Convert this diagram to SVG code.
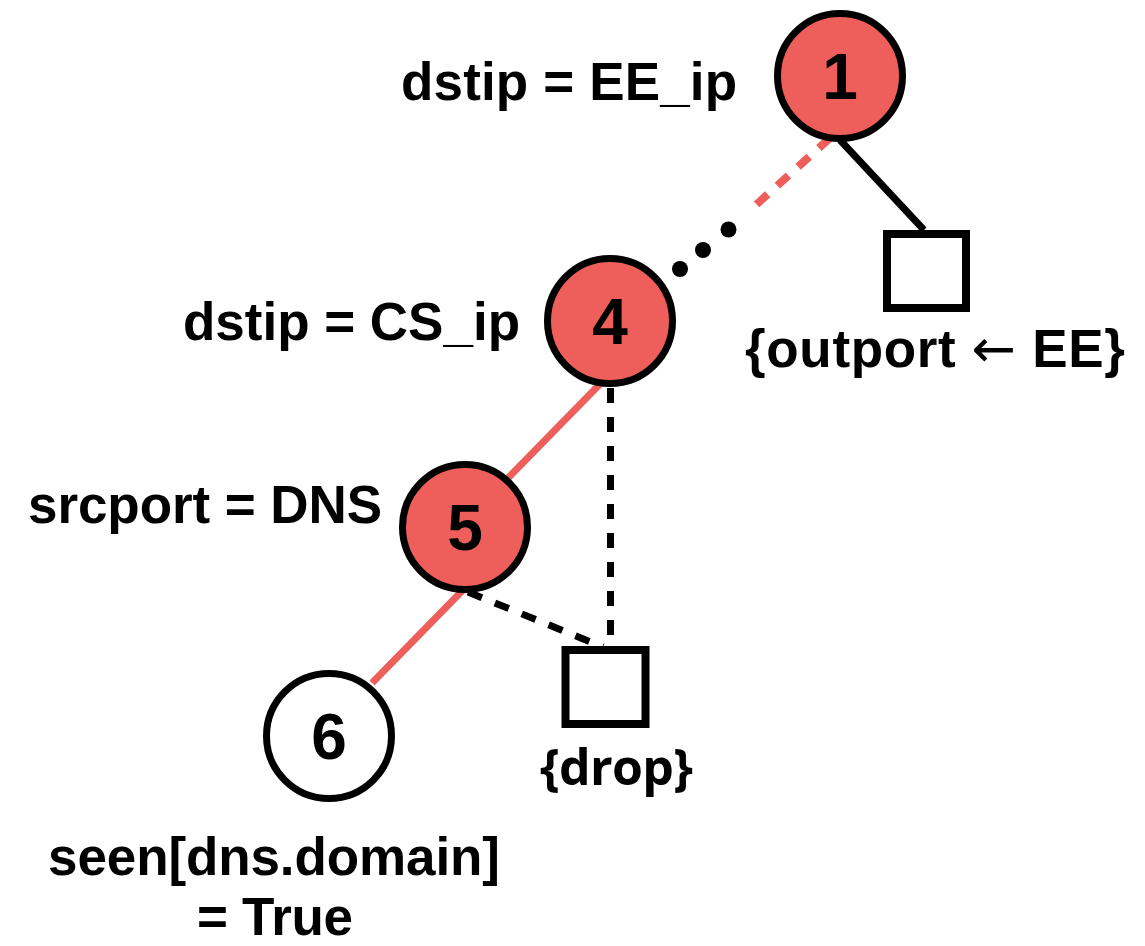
<svg xmlns="http://www.w3.org/2000/svg" width="1145" height="946" viewBox="0 0 1145 946">
<style>
.lbl{font-family:"Liberation Sans",Arial,Helvetica,sans-serif;font-weight:bold;font-size:53px;fill:#000}
.num{font-family:"Liberation Sans",Arial,Helvetica,sans-serif;font-weight:bold;font-size:64px;fill:#000;text-anchor:middle}
.node{stroke:#000;stroke-width:7}
.red{fill:#EE5F5B}
.white{fill:#fff}
.box{fill:#fff;stroke:#000;stroke-width:8}
.solidR{stroke:#EE5F5B;stroke-width:7;fill:none}
.solidK{stroke:#000;stroke-width:7;fill:none}
.dashR{stroke:#EE5F5B;stroke-width:8;stroke-dasharray:15 13;fill:none}
.dashK{stroke:#000;stroke-width:7;stroke-dasharray:15 14;fill:none}
</style>
<rect width="1145" height="946" fill="#fff"/>
<g id="connectors">
<line class="solidK" x1="840" y1="140" x2="924" y2="230"/>
<line class="dashR" x1="830" y1="138" x2="747" y2="213"/>
<circle cx="728.5" cy="229.5" r="8" fill="#000"/>
<circle cx="703" cy="250" r="8" fill="#000"/>
<circle cx="680" cy="269" r="8" fill="#000"/>
<line class="solidR" x1="600" y1="384" x2="508" y2="478"/>
<line class="solidR" x1="463" y1="590" x2="372" y2="683"/>
<line class="dashK" x1="610.5" y1="388" x2="610.5" y2="648"/>
<line class="dashK" x1="468" y1="592" x2="603" y2="647"/>
</g>
<g id="node1">
<circle class="node red" cx="840" cy="76" r="62.5"/>
<text class="num" x="840" y="99">1</text>
<text class="lbl" x="401" y="100" textLength="336" lengthAdjust="spacing">dstip = EE_ip</text>
</g>
<g id="node4">
<circle class="node red" cx="610" cy="321" r="62.5"/>
<text class="num" x="610" y="344">4</text>
<text class="lbl" x="183" y="340" textLength="337" lengthAdjust="spacing">dstip = CS_ip</text>
</g>
<g id="node5">
<circle class="node red" cx="465" cy="527" r="62.5"/>
<text class="num" x="465" y="550">5</text>
<text class="lbl" x="28" y="523" textLength="354" lengthAdjust="spacing">srcport = DNS</text>
</g>
<g id="node6">
<circle class="node white" cx="329" cy="736" r="62.5"/>
<text class="num" x="329" y="759">6</text>
<text class="lbl" x="48" y="875" textLength="452" lengthAdjust="spacing">seen[dns.domain]</text>
<text class="lbl" x="197" y="935" textLength="156" lengthAdjust="spacing">= True</text>
</g>
<g id="outport">
<rect class="box" x="887" y="234" width="79" height="74"/>
<text class="lbl" x="745" y="367" textLength="380" lengthAdjust="spacing">{outport <tspan style="font-family:'DejaVu Sans',sans-serif;font-weight:normal">←</tspan> EE}</text>
</g>
<g id="drop">
<rect class="box" x="565.5" y="650" width="80" height="74"/>
<text class="lbl" x="540" y="785" textLength="153" lengthAdjust="spacing" style="font-family:'Open Sans','Liberation Sans',sans-serif;font-size:50px">{drop}</text>
</g>
</svg>
